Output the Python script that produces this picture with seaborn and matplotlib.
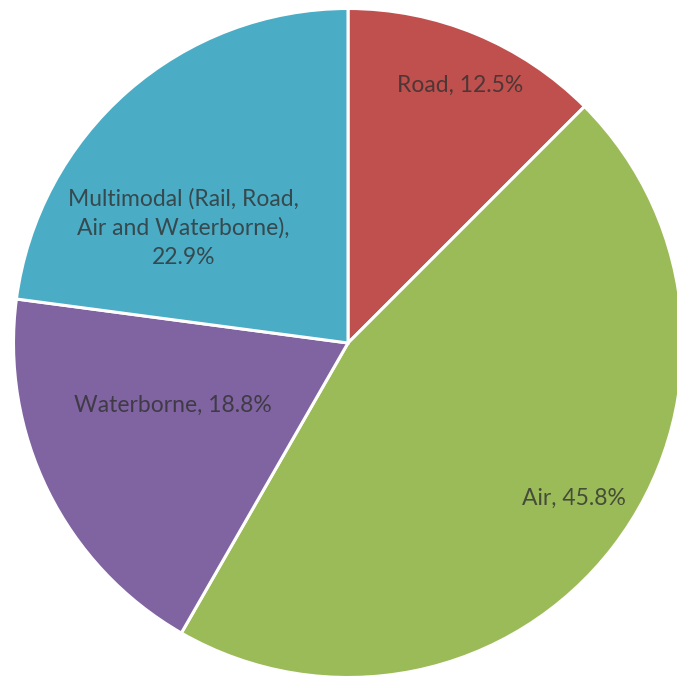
import matplotlib
matplotlib.use("Agg")
import matplotlib.pyplot as plt
import seaborn as sns
import numpy as np

categories = ["Road", "Air", "Waterborne", "Multimodal (Rail, Road,\nAir and Waterborne)"]
shares = [12.5, 45.8, 18.8, 22.9]
colors = ["#C0504D", "#9BBB59", "#8064A2", "#4BACC6"]
# label placement (radius fraction, angle in degrees) chosen to match reference
label_pos = [(0.84, 66.5), (0.82, -34.5), (0.555, -160.3), (0.60, 145.0)]

sns.set_theme(style="white")
plt.rcParams['font.family'] = ['Lato', 'DejaVu Sans']

fig = plt.figure(figsize=(6.77, 6.77), dpi=100)
ax = fig.add_axes([0, 0, 1, 1])
pal = sns.color_palette(colors)
wedges, _ = ax.pie(shares, colors=pal, startangle=90, counterclock=False,
                   radius=1.0, center=(0, 0),
                   wedgeprops=dict(edgecolor="white", linewidth=2.2))
for cat, val, (r, a) in zip(categories, shares, label_pos):
    txt = f"{cat}, {val:.1f}%" if "\n" not in cat else f"{cat},\n{val:.1f}%"
    ax.text(r * np.cos(np.radians(a)), r * np.sin(np.radians(a)), txt,
            ha="center", va="center", fontsize=16.5, color="#303030", alpha=0.8,
            linespacing=1.45)

R = 334.5
cx, cy = 348, 343
ax.set_xlim(-cx / R, (677 - cx) / R)
ax.set_ylim(-(677 - cy) / R, cy / R)
ax.set_aspect("equal")
ax.axis("off")
fig.savefig("out.png", dpi=100)
